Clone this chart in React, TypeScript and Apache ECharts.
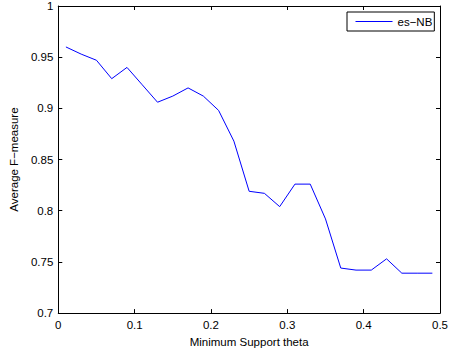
import React, { useEffect, useRef } from "react";
import * as echarts from "echarts";

// Minimum support threshold (theta) values
const thetaValues: number[] = [
  0.01, 0.03, 0.05, 0.07, 0.09, 0.11, 0.13, 0.15, 0.17, 0.19, 0.21, 0.23, 0.25,
  0.27, 0.29, 0.31, 0.33, 0.35, 0.37, 0.39, 0.41, 0.43, 0.45, 0.47, 0.49,
];

// Average F-measure of es-NB at each threshold
const esNbFMeasure: number[] = [
  0.96, 0.953, 0.947, 0.929, 0.94, 0.923, 0.906, 0.912, 0.92, 0.912, 0.898,
  0.868, 0.819, 0.817, 0.804, 0.826, 0.826, 0.792, 0.744, 0.742, 0.742, 0.753,
  0.739, 0.739, 0.739,
];

const seriesName = "es\u2212NB";
const xTitle = "Minimum Support theta";
const yTitle = "Average F\u2212measure";

const LINE_COLOR = "#0000ff";
const FONT = "'Liberation Sans', Arial, Helvetica, sans-serif";
const FONT_SIZE = 11.5;

export default function App() {
  const ref = useRef<HTMLDivElement | null>(null);

  useEffect(() => {
    if (!ref.current) return;
    const chart = echarts.init(ref.current, undefined, { renderer: "svg" });

    const axisLine = { show: true, onZero: false, lineStyle: { color: "#000", width: 1 } };
    const tick = { show: true, inside: true, length: 4, lineStyle: { color: "#000", width: 1 } };
    const label = { color: "#000", fontFamily: FONT, fontSize: FONT_SIZE };

    chart.setOption({
      animation: false,
      backgroundColor: "#fff",
      grid: { left: 53, right: 8, top: 6, bottom: 39, containLabel: false },
      legend: {
        show: true,
        data: [seriesName],
        left: 347,
        top: 12,
        orient: "horizontal",
        borderColor: "#000",
        borderWidth: 1,
        backgroundColor: "#fff",
        padding: [2, 2, 2, 8],
        itemWidth: 37,
        itemHeight: 14,
        itemGap: 4,
        itemStyle: { opacity: 0 },
        lineStyle: { color: LINE_COLOR, width: 1, opacity: 1 },
        textStyle: { color: "#000", fontFamily: FONT, fontSize: FONT_SIZE, lineHeight: 15 },
      },
      xAxis: [
        {
          type: "value",
          position: "bottom",
          min: 0,
          max: 0.5,
          interval: 0.1,
          axisLine,
          axisTick: tick,
          splitLine: { show: false },
          axisLabel: { ...label, margin: 6, formatter: (v: number) => `${+v.toFixed(2)}` },
          name: xTitle,
          nameLocation: "middle",
          nameGap: 18,
          nameTextStyle: { color: "#000", fontFamily: FONT, fontSize: FONT_SIZE },
        },
        {
          type: "value",
          position: "top",
          min: 0,
          max: 0.5,
          interval: 0.1,
          axisLine,
          axisTick: tick,
          splitLine: { show: false },
          axisLabel: { show: false },
        },
      ],
      yAxis: [
        {
          type: "value",
          position: "left",
          min: 0.7,
          max: 1,
          interval: 0.05,
          axisLine,
          axisTick: tick,
          splitLine: { show: false },
          axisLabel: { ...label, margin: 5, formatter: (v: number) => `${+v.toFixed(2)}` },
          name: yTitle,
          nameLocation: "middle",
          nameRotate: 90,
          nameGap: 31,
          nameTextStyle: { color: "#000", fontFamily: FONT, fontSize: FONT_SIZE },
        },
        {
          type: "value",
          position: "right",
          min: 0.7,
          max: 1,
          interval: 0.05,
          axisLine,
          axisTick: tick,
          splitLine: { show: false },
          axisLabel: { show: false },
        },
      ],
      series: [
        {
          name: seriesName,
          type: "line",
          xAxisIndex: 0,
          yAxisIndex: 0,
          data: thetaValues.map((t, i) => [t, esNbFMeasure[i]]),
          symbol: "none",
          color: LINE_COLOR,
          lineStyle: { color: LINE_COLOR, width: 1 },
          itemStyle: { color: LINE_COLOR },
        },
      ],
    });

    return () => chart.dispose();
  }, []);

  return (
    <div
      ref={ref}
      style={{ position: "fixed", left: 0, top: 0, width: 451, height: 353, background: "#fff" }}
    />
  );
}
